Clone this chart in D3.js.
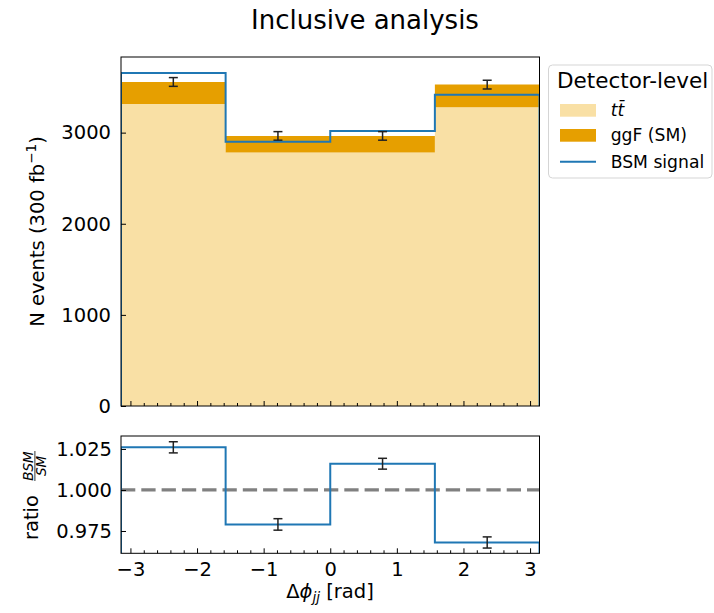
<!DOCTYPE html>
<html><head><meta charset="utf-8">
<script src="https://cdn.jsdelivr.net/npm/d3@7"></script>
<style>
body{margin:0;background:#fff;}
svg{display:block;font-family:"DejaVu Sans",sans-serif;}
</style></head>
<body><svg id="c" width="714" height="613"></svg>
<script>
// ---- data ----
const binEdges = [-Math.PI, -Math.PI/2, 0, Math.PI/2, Math.PI];
const ttbar = [3315, 2781, 2781, 3279];
const ggF = [241, 183, 183, 248];
const bsm = [3655, 2901, 3019, 3417];
const smErr = [48, 47, 47, 48];
const ratio = [1.026, 0.979, 1.016, 0.968];
const ratioErr = [0.0034, 0.0035, 0.0033, 0.0034];
const xTicks = [-3, -2, -1, 0, 1, 2, 3];
const yTopTicks = [0, 1000, 2000, 3000];
const yBotTicks = [0.975, 1.000, 1.025];
const legendLabels = ["t\u0074\u0304", "ggF (SM)", "BSM signal"];

const colTT = "#f9e0a5", colGGF = "#e69f00", colBSM = "#1f77b4";

const svg = d3.select("#c");
const L = 121, R = 539.5;
const T1 = 57, B1 = 406, T2 = 436, B2 = 553.3;
const x = d3.scaleLinear([-Math.PI, Math.PI], [L, R]);
const yT = d3.scaleLinear([0, 3830], [B1, T1]);
const yB = d3.scaleLinear([0.9614, 1.0329], [B2, T2]);
const FS = 19.5;

const defs = svg.append("defs");
defs.append("clipPath").attr("id","c1").append("rect").attr("x",L).attr("y",T1).attr("width",R-L).attr("height",B1-T1);
defs.append("clipPath").attr("id","c2").append("rect").attr("x",L).attr("y",T2).attr("width",R-L).attr("height",B2-T2);

// title
svg.append("text").attr("x",365).attr("y",29).attr("text-anchor","middle")
  .attr("font-size",26).text("Inclusive analysis");

const bins = d3.range(4);
// ---- top panel ----
const g1 = svg.append("g").attr("clip-path","url(#c1)");
function stepPts(vals, base){
  const p = [[binEdges[0], base]];
  vals.forEach((v,i)=>{ p.push([binEdges[i], v]); p.push([binEdges[i+1], v]); });
  p.push([binEdges[4], base]);
  return p;
}
const sm = bins.map(i=>ttbar[i]+ggF[i]);
// stacked fills as step areas (avoid seams)
const areaT = d3.area().x(d=>x(d[0])).y0(d=>yT(d[1])).y1(d=>yT(d[2]));
function bandPts(lo, hi){
  const p = [];
  bins.forEach(i=>{ p.push([binEdges[i], lo[i], hi[i]]); p.push([binEdges[i+1], lo[i], hi[i]]); });
  return p;
}
g1.append("path").datum(bandPts(bins.map(()=>0), ttbar)).attr("d", areaT).attr("fill", colTT);
g1.append("path").datum(bandPts(ttbar, sm)).attr("d", areaT).attr("fill", colGGF);

g1.append("path").datum(stepPts(bsm, 0))
  .attr("d", d3.line().x(d=>x(d[0])).y(d=>yT(d[1])))
  .attr("fill","none").attr("stroke",colBSM).attr("stroke-width",2);

function errbars(g, ys, vals, errs){
  bins.forEach(i=>{
    const cx = x((binEdges[i]+binEdges[i+1])/2);
    const y0 = ys(vals[i]-errs[i]), y1 = ys(vals[i]+errs[i]);
    g.append("line").attr("x1",cx).attr("x2",cx).attr("y1",y0).attr("y2",y1).attr("stroke","#222").attr("stroke-width",1.5);
    [y0,y1].forEach(yy=>g.append("line").attr("x1",cx-4.5).attr("x2",cx+4.5).attr("y1",yy).attr("y2",yy).attr("stroke","#222").attr("stroke-width",1.5));
  });
}
errbars(svg.append("g"), yT, sm, smErr);

// ---- bottom panel ----
const g2 = svg.append("g").attr("clip-path","url(#c2)");
g2.append("line").attr("x1",L).attr("x2",R).attr("y1",yB(1)).attr("y2",yB(1))
  .attr("stroke","#808080").attr("stroke-width",3.3).attr("stroke-dasharray","14.3 6");
g2.append("path").datum(stepPts(ratio, 0.9))
  .attr("d", d3.line().x(d=>x(d[0])).y(d=>yB(d[1])))
  .attr("fill","none").attr("stroke",colBSM).attr("stroke-width",2);
errbars(svg.append("g"), yB, ratio, ratioErr);

// ---- axes ----
const minor = d3.range(-3.0, 3.01, 0.2).map(v=>+v.toFixed(1))
  .filter(v=>Math.abs(v-Math.round(v))>1e-6 && Math.abs(v) < Math.PI);
function styleAxis(g){
  g.select(".domain").remove();
  g.selectAll(".tick line").attr("stroke","#000").attr("stroke-width",1);
  g.selectAll(".tick text").attr("font-size",FS).attr("fill","#000").attr("font-family","DejaVu Sans");
}
// top panel x
svg.append("g").attr("transform",`translate(0,${B1})`)
  .call(d3.axisBottom(x).tickValues(xTicks).tickSize(-5).tickFormat("")).call(styleAxis);
svg.append("g").attr("transform",`translate(0,${B1})`)
  .call(d3.axisBottom(x).tickValues(minor).tickSize(-3).tickFormat("")).call(styleAxis);
// bottom panel x
svg.append("g").attr("transform",`translate(0,${B2})`)
  .call(d3.axisBottom(x).tickValues(xTicks).tickSize(-5).tickPadding(9).tickFormat(d3.format("d"))).call(styleAxis);
svg.append("g").attr("transform",`translate(0,${B2})`)
  .call(d3.axisBottom(x).tickValues(minor).tickSize(-3).tickFormat("")).call(styleAxis);
// y axes
svg.append("g").attr("transform",`translate(${L},0)`)
  .call(d3.axisLeft(yT).tickValues(yTopTicks).tickSize(-5).tickPadding(10).tickFormat(d3.format("d"))).call(styleAxis);
svg.append("g").attr("transform",`translate(${L},0)`)
  .call(d3.axisLeft(yB).tickValues(yBotTicks).tickSize(-5).tickPadding(9).tickFormat(d3.format(".3f"))).call(styleAxis);

// frames
[[T1,B1],[T2,B2]].forEach(([t,b])=>svg.append("rect").attr("x",L).attr("y",t).attr("width",R-L).attr("height",b-t)
  .attr("fill","none").attr("stroke","#000").attr("stroke-width",1));

// axis labels
const yl = svg.append("text").attr("transform",`translate(44,231.5) rotate(-90)`).attr("text-anchor","middle").attr("font-size",FS);
yl.append("tspan").text("N events (300 fb");
yl.append("tspan").attr("font-size",13.6).attr("dy",-8).text("\u22121");
yl.append("tspan").attr("dy",8).text(")");

const rl = svg.append("g").attr("transform",`translate(37.5,496) rotate(-90)`);
rl.append("text").attr("x",-44).attr("y",0).attr("font-size",FS).text("ratio");
rl.append("text").attr("x",30).attr("y",-4.5).attr("text-anchor","middle").attr("font-size",13.5).attr("font-style","italic").text("BSM");
rl.append("line").attr("x1",15).attr("x2",45).attr("y1",-2.6).attr("y2",-2.6).attr("stroke","#000").attr("stroke-width",0.8);
rl.append("text").attr("x",30).attr("y",8.5).attr("text-anchor","middle").attr("font-size",13.5).attr("font-style","italic").text("SM");

const xl = svg.append("text").attr("x",330).attr("y",598).attr("text-anchor","middle").attr("font-size",FS);
xl.append("tspan").text("\u0394");
xl.append("tspan").attr("font-style","italic").text("\u03d5");
xl.append("tspan").attr("font-style","italic").attr("font-size",13.6).attr("dy",4).text("jj");
xl.append("tspan").attr("dy",-4).text(" [rad]");

// legend
const lg = svg.append("g");
lg.append("rect").attr("x",548.5).attr("y",65).attr("width",163.5).attr("height",113).attr("rx",4)
  .attr("fill","#fff").attr("fill-opacity",0.8).attr("stroke","#d5d5d5").attr("stroke-width",1);
lg.append("text").attr("x",557).attr("y",88).attr("font-size",21.5).text("Detector-level");
lg.append("rect").attr("x",560).attr("y",104).attr("width",36).attr("height",12.7).attr("fill",colTT);
lg.append("rect").attr("x",560).attr("y",129).attr("width",36).attr("height",12.7).attr("fill",colGGF);
lg.append("line").attr("x1",560).attr("x2",596).attr("y1",161.7).attr("y2",161.7).attr("stroke",colBSM).attr("stroke-width",2);
lg.append("text").attr("x",610.7).attr("y",116).attr("font-size",17.2).attr("font-style","italic").text(legendLabels[0]);
lg.append("text").attr("x",610.7).attr("y",141).attr("font-size",17.2).text(legendLabels[1]);
lg.append("text").attr("x",610.7).attr("y",168).attr("font-size",17.2).text(legendLabels[2]);
</script></body></html>
